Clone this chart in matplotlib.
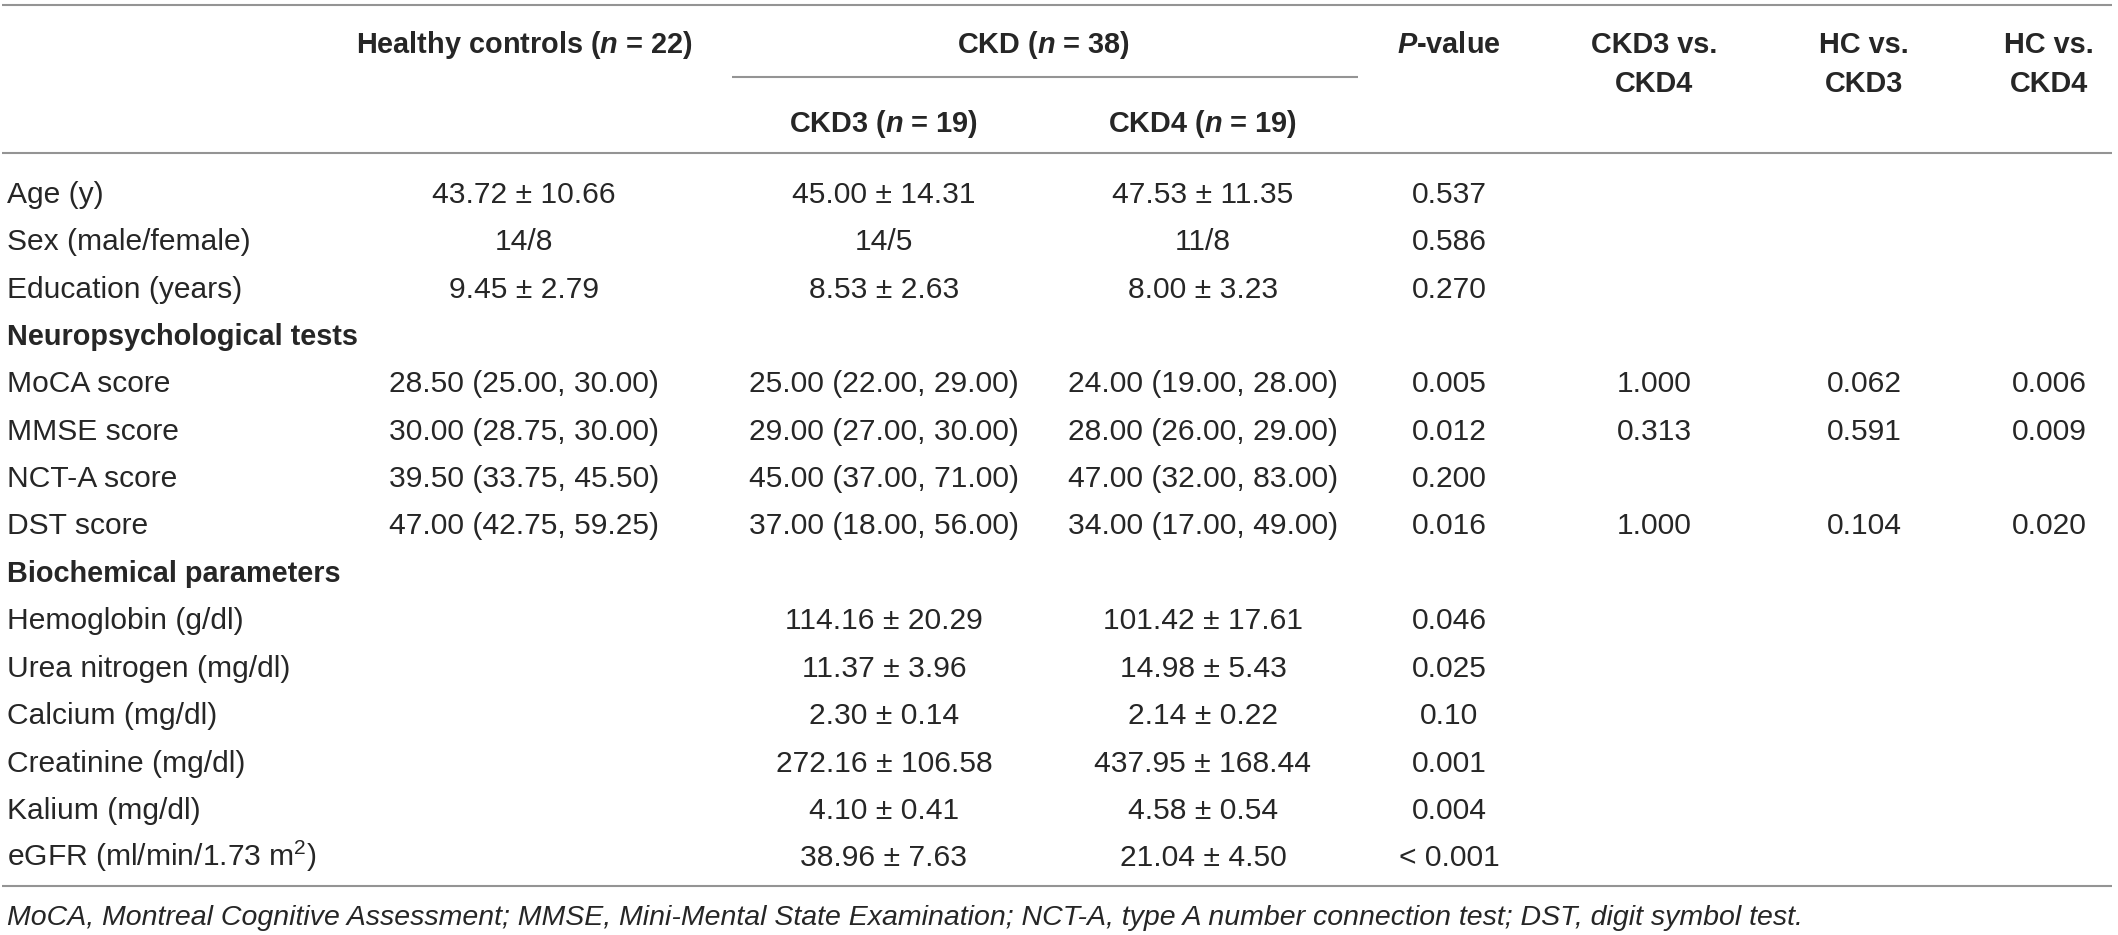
"""Table: demographics, neuropsychological tests and biochemistry of HC vs CKD"""

import matplotlib
matplotlib.use('Agg')
import matplotlib.pyplot as plt

plt.rcParams['font.family'] = ['Liberation Sans', 'DejaVu Sans']
plt.rcParams['mathtext.fontset'] = 'custom'
plt.rcParams['mathtext.rm'] = 'Liberation Sans'
plt.rcParams['mathtext.it'] = 'Liberation Sans:italic:bold'
plt.rcParams['mathtext.bf'] = 'Liberation Sans:bold'

# table content
row_labels = ["Age (y)", "Sex (male/female)", "Education (years)",
              "Neuropsychological tests", "MoCA score", "MMSE score",
              "NCT-A score", "DST score", "Biochemical parameters",
              "Hemoglobin (g/dl)", "Urea nitrogen (mg/dl)", "Calcium (mg/dl)",
              "Creatinine (mg/dl)", "Kalium (mg/dl)",
              "eGFR (ml/min/1.73 m$^2$)"]
section_rows = ["Neuropsychological tests", "Biochemical parameters"]

hc = ["43.72 ± 10.66", "14/8", "9.45 ± 2.79", "",
      "28.50 (25.00, 30.00)", "30.00 (28.75, 30.00)",
      "39.50 (33.75, 45.50)", "47.00 (42.75, 59.25)", "",
      "", "", "", "", "", ""]
ckd3 = ["45.00 ± 14.31", "14/5", "8.53 ± 2.63", "",
        "25.00 (22.00, 29.00)", "29.00 (27.00, 30.00)",
        "45.00 (37.00, 71.00)", "37.00 (18.00, 56.00)", "",
        "114.16 ± 20.29", "11.37 ± 3.96", "2.30 ± 0.14",
        "272.16 ± 106.58", "4.10 ± 0.41", "38.96 ± 7.63"]
ckd4 = ["47.53 ± 11.35", "11/8", "8.00 ± 3.23", "",
        "24.00 (19.00, 28.00)", "28.00 (26.00, 29.00)",
        "47.00 (32.00, 83.00)", "34.00 (17.00, 49.00)", "",
        "101.42 ± 17.61", "14.98 ± 5.43", "2.14 ± 0.22",
        "437.95 ± 168.44", "4.58 ± 0.54", "21.04 ± 4.50"]
p_value = ["0.537", "0.586", "0.270", "", "0.005", "0.012", "0.200",
           "0.016", "", "0.046", "0.025", "0.10", "0.001", "0.004",
           "< 0.001"]
p_ckd3_ckd4 = ["", "", "", "", "1.000", "0.313", "", "1.000",
               "", "", "", "", "", "", ""]
p_hc_ckd3 = ["", "", "", "", "0.062", "0.591", "", "0.104",
             "", "", "", "", "", "", ""]
p_hc_ckd4 = ["", "", "", "", "0.006", "0.009", "", "0.020",
             "", "", "", "", "", "", ""]

footnote = ("MoCA, Montreal Cognitive Assessment; MMSE, Mini-Mental State "
            "Examination; NCT-A, type A number connection test; DST, digit "
            "symbol test.")

W, H = 2118, 935
fig = plt.figure(figsize=(W / 100, H / 100), dpi=100)
ax = fig.add_axes([0, 0, 1, 1])
ax.set_xlim(0, W)
ax.set_ylim(H, 0)
ax.axis('off')

txt = '#262626'
rule = '#949494'
fs = 21.6      # body
fs_h = 20.8    # header
fs_f = 20.5    # footnote

# column centres
col_x = [524, 884, 1203, 1449, 1654, 1864, 2049]
label_x = 7

# rules
ax.hlines(5, 2, 2112, color=rule, lw=1.5)
ax.hlines(77, 732, 1358, color=rule, lw=1.5)
ax.hlines(153, 2, 2112, color=rule, lw=1.5)
ax.hlines(886, 2, 2112, color=rule, lw=1.5)

# header (baselines)
hb = 10.3
hdr = dict(ha='center', va='baseline', fontsize=fs_h, color=txt,
           fontweight='bold')
ax.text(col_x[0], 43 + hb, r"Healthy controls ($\mathit{n}$ = 22)", **hdr)
ax.text((col_x[1] + col_x[2]) / 2, 43 + hb, r"CKD ($\mathit{n}$ = 38)", **hdr)
ax.text(col_x[1], 122 + hb, r"CKD3 ($\mathit{n}$ = 19)", **hdr)
ax.text(col_x[2], 122 + hb, r"CKD4 ($\mathit{n}$ = 19)", **hdr)
ax.text(col_x[3], 43 + hb, r"$\mathit{P}$-value", **hdr)
ax.text(col_x[4], 43 + hb, "CKD3 vs.", **hdr)
ax.text(col_x[4], 82 + hb, "CKD4", **hdr)
ax.text(col_x[5], 43 + hb, "HC vs.", **hdr)
ax.text(col_x[5], 82 + hb, "CKD3", **hdr)
ax.text(col_x[6], 43 + hb, "HC vs.", **hdr)
ax.text(col_x[6], 82 + hb, "CKD4", **hdr)

# body
y0, dy, bb = 192, 47.4, 10.7
columns = [hc, ckd3, ckd4, p_value, p_ckd3_ckd4, p_hc_ckd3, p_hc_ckd4]
for i, lab in enumerate(row_labels):
    y = y0 + i * dy + bb
    if lab in section_rows:
        ax.text(label_x, y, lab, ha='left', va='baseline', fontsize=fs_h,
                color=txt, fontweight='bold')
    else:
        ax.text(label_x, y, lab, ha='left', va='baseline', fontsize=fs,
                color=txt)
    for cx, col in zip(col_x, columns):
        if col[i]:
            ax.text(cx, y, col[i], ha='center', va='baseline', fontsize=fs,
                    color=txt)

ax.text(label_x, 925, footnote, ha='left', va='baseline', fontsize=fs_f,
        color=txt, style='italic')

fig.savefig('out.png', dpi=100)
